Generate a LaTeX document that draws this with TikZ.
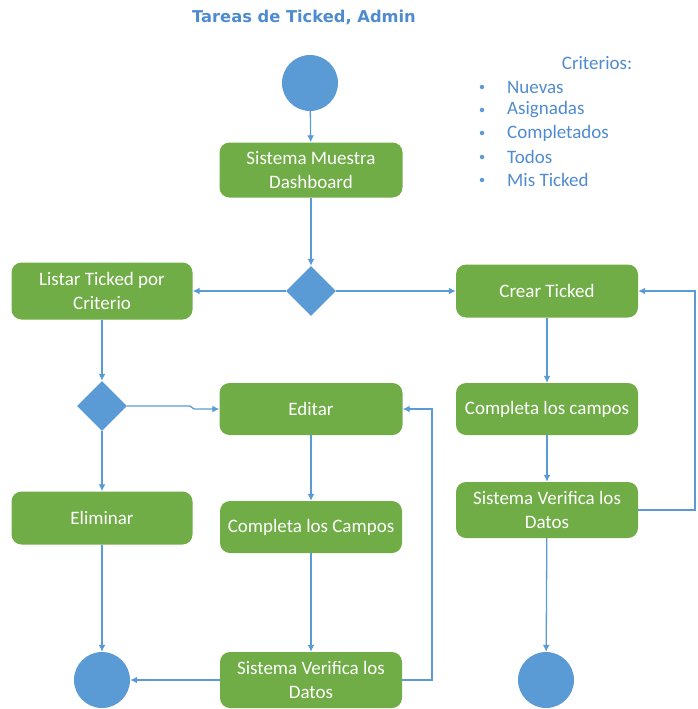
\documentclass[tikz,border=0pt]{standalone}
\usepackage{fontspec}
\setmainfont{Carlito}
\newfontfamily\titlefont{DejaVu Sans}
\usetikzlibrary{shapes.geometric,arrows.meta,calc}
\definecolor{actgreen}{HTML}{70AD47}
\definecolor{flowblue}{HTML}{5B9BD5}
\definecolor{textblue}{HTML}{4F8BCF}
\begin{document}
\begin{tikzpicture}[x=1pt,y=-1pt,
  action/.style={draw=none,fill=actgreen,rounded corners=10pt,text=white,
    align=center,minimum width=182pt,minimum height=54pt,inner sep=2pt,
    font=\fontsize{19}{24}\selectfont},
  terminal/.style={circle,fill=flowblue,minimum size=56pt,inner sep=0pt},
  choice/.style={diamond,fill=flowblue,minimum width=50pt,minimum height=50pt,
    aspect=1,inner sep=0pt},
  flow/.style={draw=flowblue,line width=1.3pt,-{Latex[length=7pt,width=7pt]}},
  bulletdot/.style={circle,fill=flowblue,minimum size=4.5pt,inner sep=0pt},
  critem/.style={anchor=west,text=textblue,font=\fontsize{19}{22}\selectfont,inner sep=0pt}
]
\useasboundingbox (0,0) rectangle (697,709);

% title
\node (title) at (304,17) {\titlefont\bfseries\fontsize{16.3}{19}\selectfont\color{textblue}Tareas de Ticked, Admin};

% legend of criteria
\node (crit) [text=textblue,font=\fontsize{19}{22}\selectfont] at (597,63) {Criterios:};
\foreach \y/\t [count=\i] in {87/Nuevas,110/Asignadas,133/Completados,157/Todos,180/Mis Ticked}{
  \node (b\i) [bulletdot] at (482,\y) {};
  \node (c\i) [critem] at (507,\y) {\t};
}

% activity nodes
\node (start) [terminal] at (310,83) {};
\node (dash) [action,minimum width=183pt,minimum height=55pt] at (311,170) {Sistema Muestra\\Dashboard};
\node (d1) [choice] at (311,291) {};
\node (listar) [action,minimum width=181pt,minimum height=57pt] at (102,291) {Listar Ticked por\\Criterio};
\node (crear) [action,minimum height=53pt] at (547,291) {Crear Ticked};
\node (comp1) [action,minimum height=52pt] at (547,409) {Completa los campos};
\node (ver1) [action,minimum height=56pt] at (547,510) {Sistema Verifica los\\Datos};
\node (end2) [terminal] at (546,680) {};
\node (d2) [choice] at (102,406) {};
\node (editar) [action,minimum width=183pt,minimum height=52pt] at (311,409) {Editar};
\node (elim) [action,minimum width=181pt,minimum height=53pt] at (102,518) {Eliminar};
\node (comp2) [action,minimum height=52pt] at (311,527) {Completa los Campos};
\node (ver2) [action,minimum height=56pt] at (311,680) {Sistema Verifica los\\Datos};
\node (end1) [terminal] at (102,680) {};

% helper coordinates for the return loops and the jog
\coordinate (jog) at (190,0);
\coordinate (loopM) at (432,0);
\coordinate (loopR) at (695,0);

% connectors
\draw[flow] (start) -- (dash);
\draw[flow] (dash) -- (d1);
\draw[flow] (d1.west) -- (listar.east);
\draw[flow] (d1.east) -- (crear.west);
\draw[flow] (listar) -- (d2);
\draw[flow] (d2) -- (elim);
\draw[flow] (d2.east) -- (d2.east -| jog) -- ($(editar.west -| jog)+(4,0)$) -- (editar.west);
\draw[flow] (elim) -- (end1);
\draw[flow] (editar) -- (comp2);
\draw[flow] (comp2) -- (ver2);
\draw[flow] (ver2.west) -- (end1.east);
\draw[flow] (ver2.east) -- (ver2.east -| loopM) |- (editar.east);
\draw[flow] (crear) -- (comp1);
\draw[flow] (comp1) -- (ver1);
\draw[flow] (ver1) -- (end2);
\draw[flow] (ver1.east) -- (ver1.east -| loopR) |- (crear.east);
\end{tikzpicture}
\end{document}
